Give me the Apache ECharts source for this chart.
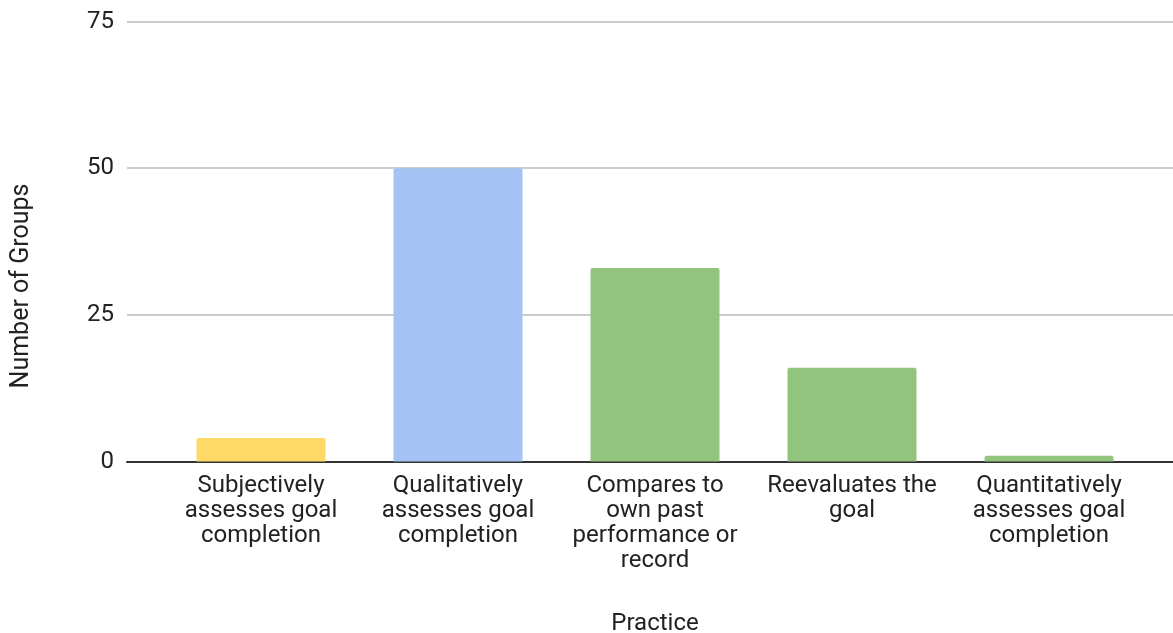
<!DOCTYPE html>
<html>
<head>
<meta charset="utf-8">
<script src="https://cdn.jsdelivr.net/npm/echarts@6/dist/echarts.min.js"></script>
<style>html,body{margin:0;padding:0;background:#fff}#c{width:1173px;height:633px}</style>
</head>
<body>
<div id="c"></div>
<script>
const categories = [
  "Subjectively\nassesses goal\ncompletion",
  "Qualitatively\nassesses goal\ncompletion",
  "Compares to\nown past\nperformance or\nrecord",
  "Reevaluates the\ngoal",
  "Quantitatively\nassesses goal\ncompletion"
];
const values = [4, 50, 33, 16, 1];
const barColors = ["#ffd966", "#a4c2f4", "#93c47d", "#93c47d", "#93c47d"];
const yTicks = { min: 0, max: 75, interval: 25 };
const xTitle = "Practice";
const yTitle = "Number of Groups";

const font = "Roboto";
const chart = echarts.init(document.getElementById('c'), null, { renderer: 'canvas' });
chart.setOption({
  animation: false,
  textStyle: { fontFamily: font },
  grid: [
    { left: 127, right: 0, top: 21.5, bottom: 171.5, containLabel: false, outerBoundsMode: 'none' },
    { left: 162.5, right: 25.5, top: 21.5, bottom: 171.5, containLabel: false, outerBoundsMode: 'none' }
  ],
  graphic: [{
    type: 'text', rotation: Math.PI / 2, x: 22, y: 286,
    style: { text: yTitle, fill: '#222', font: '25px Roboto', align: 'center', verticalAlign: 'middle' }
  }],
  xAxis: [
    { gridIndex: 0, type: 'category', data: categories,
      axisLine: { show: true, lineStyle: { color: '#333', width: 2 } },
      axisTick: { show: false }, axisLabel: { show: false }, splitLine: { show: false } },
    { gridIndex: 1, type: 'category', data: categories,
      axisLine: { show: false }, axisTick: { show: false },
      axisLabel: { color: '#222', fontSize: 24, lineHeight: 25, margin: 12, interval: 0, fontFamily: font },
      name: xTitle, nameLocation: 'middle', nameGap: 150,
      nameTextStyle: { color: '#222', fontSize: 24, fontFamily: font } }
  ],
  yAxis: [
    { gridIndex: 0, type: 'value', min: yTicks.min, max: yTicks.max, interval: yTicks.interval,
      axisLine: { show: false }, axisTick: { show: false },
      axisLabel: { color: '#222', fontSize: 24, margin: 13, fontFamily: font },
      splitLine: { lineStyle: { color: '#cccccc', width: 2 } } },
    { gridIndex: 1, type: 'value', min: yTicks.min, max: yTicks.max, interval: yTicks.interval, show: false,
      splitLine: { show: false } }
  ],
  series: [{
    type: 'bar', xAxisIndex: 1, yAxisIndex: 1,
    data: values.map((v, i) => ({ value: v, itemStyle: { color: barColors[i] } })),
    barWidth: 129,
    itemStyle: { borderRadius: [2, 2, 0, 0] },
    z: 1
  }]
});
</script>
</body>
</html>
